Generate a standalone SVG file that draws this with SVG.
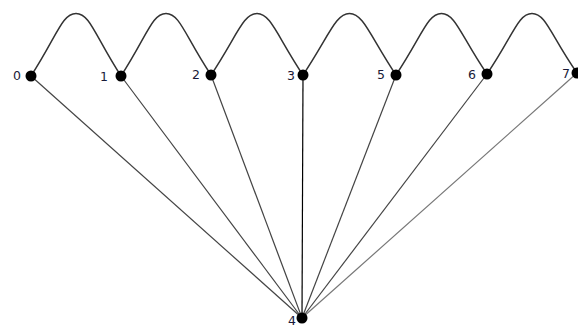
<svg xmlns="http://www.w3.org/2000/svg" width="578" height="327" viewBox="0 0 578 327">
<style>
.arc{fill:none;stroke:#333;stroke-width:1.5}
.e{stroke:#444;stroke-width:1.2}
.n{fill:#000}
.l{font-family:"DejaVu Sans",Verdana,sans-serif;font-size:12.5px;fill:#1a1a38;text-anchor:end}
</style>
<rect width="578" height="327" fill="#fff"/>
<g id="connectors">
<path class="arc" d="M31,76 C57,36 62,13.5 76,13.5 C90,13.5 95,36 121,76"/>
<path class="arc" d="M121,76 C147,36 152,13.5 166,13.5 C180,13.5 185,36 211,75"/>
<path class="arc" d="M211,75 C237,36 243,13.5 257,13.5 C271,13.5 277,36 303,75"/>
<path class="arc" d="M303,75 C329,36 335.5,13.5 349.5,13.5 C363.5,13.5 370,36 396,75"/>
<path class="arc" d="M396,75 C422,36 427.5,13.5 441.5,13.5 C455.5,13.5 461,36 487,74"/>
<path class="arc" d="M487,74 C513,36 518,13.5 532,13.5 C546,13.5 551,36 577,73"/>
<line class="e" x1="31" y1="76" x2="302" y2="318"/>
<line class="e" x1="121" y1="76" x2="302" y2="318"/>
<line class="e" x1="211" y1="75" x2="302" y2="318"/>
<line class="e" x1="303" y1="75" x2="302" y2="318" style="stroke:#000"/>
<line class="e" x1="396" y1="75" x2="302" y2="318"/>
<line class="e" x1="487" y1="74" x2="302" y2="318"/>
<line class="e" x1="577" y1="73" x2="302" y2="318" style="stroke:#777"/>
</g>
<g id="n0"><circle class="n" cx="31" cy="76" r="5.5"/><text class="l" x="21" y="80">0</text></g>
<g id="n1"><circle class="n" cx="121" cy="76" r="5.5"/><text class="l" x="108" y="81">1</text></g>
<g id="n2"><circle class="n" cx="211" cy="75" r="5.5"/><text class="l" x="200" y="79">2</text></g>
<g id="n3"><circle class="n" cx="303" cy="75" r="5.5"/><text class="l" x="295" y="80">3</text></g>
<g id="n5"><circle class="n" cx="396" cy="75" r="5.5"/><text class="l" x="385" y="79">5</text></g>
<g id="n6"><circle class="n" cx="487" cy="74" r="5.5"/><text class="l" x="476" y="79">6</text></g>
<g id="n7"><circle class="n" cx="577" cy="73" r="5.5"/><text class="l" x="570" y="78">7</text></g>
<g id="n4"><circle class="n" cx="302" cy="318" r="5.5"/><text class="l" x="296" y="325">4</text></g>
</svg>
